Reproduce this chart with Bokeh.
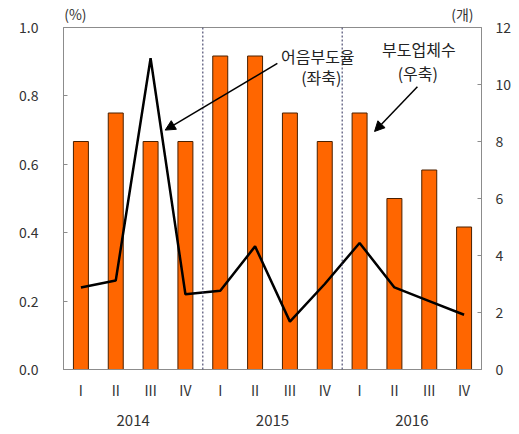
from bokeh.plotting import figure
from bokeh.layouts import row
from bokeh.models import (Range1d, LinearAxis, FixedTicker, Span, Label,
                          Arrow, NormalHead, ColumnDataSource, NumeralTickFormatter, Spacer)
from bokeh.embed import file_html
from bokeh.resources import INLINE

years = ["2014", "2015", "2016"]
quarters = ["I", "II", "III", "IV"]
firms = [8, 9, 8, 8, 11, 11, 9, 8, 9, 6, 7, 5]           # 부도업체수 (우축, 개)
rate = [0.24, 0.26, 0.91, 0.22, 0.23, 0.36, 0.14, 0.25, 0.37, 0.24, 0.20, 0.16]  # 어음부도율 (좌축, %)
left_ticks = [0.0, 0.2, 0.4, 0.6, 0.8, 1.0]
right_ticks = [0, 2, 4, 6, 8, 10, 12]
unit_labels = ["(%)", "(개)"]

n_q = len(quarters)
n = len(years) * n_q
xs = [i + 0.5 for i in range(n)]
q_labels = [quarters[i % n_q] for i in range(n)]
year_pos = [k * n_q + n_q / 2 for k in range(len(years))]
src = ColumnDataSource(data=dict(x=xs, firms=firms, rate=rate))

FONT = "Noto Sans CJK KR"
GRAY = "#8c8c8c"
TXT = "#333333"

p = figure(frame_width=418, frame_height=342, output_backend="svg", toolbar_location=None,
           x_range=Range1d(0, n), y_range=Range1d(0, 1.0))
p.extra_y_ranges = {"cnt": Range1d(0, 12)}
p.grid.visible = False
p.outline_line_color = GRAY
p.background_fill_color = "white"

# bars on right axis
p.vbar(x="x", top="firms", width=0.43, source=src, y_range_name="cnt",
       fill_color="#FF6600", line_color="#4a2000", line_width=1)
# line on left axis
p.line(x="x", y="rate", source=src, line_color="black", line_width=2.5)

# year dividers
for k in range(1, len(years)):
    p.add_layout(Span(location=k * n_q, dimension="height", line_color="#2a2a55",
                      line_dash="2 2", line_width=1))

def style_axis(ax, standoff, size="14px"):
    ax.major_tick_in = 4
    ax.major_tick_out = 0
    ax.minor_tick_line_color = None
    ax.major_label_standoff = standoff
    ax.major_label_text_font = FONT
    ax.major_label_text_font_size = size
    ax.major_label_text_color = TXT
    ax.axis_line_color = GRAY
    ax.major_tick_line_color = GRAY

yl = p.yaxis[0]
yl.ticker = FixedTicker(ticks=left_ticks)
yl.formatter = NumeralTickFormatter(format="0.0")
style_axis(yl, 25)

yr = LinearAxis(y_range_name="cnt", ticker=FixedTicker(ticks=right_ticks))
style_axis(yr, 14)
p.add_layout(yr, "right")

# quarter labels
xa = p.xaxis[0]
xa.ticker = FixedTicker(ticks=xs)
xa.major_label_overrides = {x: q for x, q in zip(xs, q_labels)}
style_axis(xa, 10)
xa.major_tick_line_color = None

# year labels
ya = LinearAxis(ticker=FixedTicker(ticks=year_pos),
                major_label_overrides={x: y for x, y in zip(year_pos, years)})
style_axis(ya, 12, "15px")
ya.axis_line_color = None
ya.major_tick_line_color = None
p.add_layout(ya, "below")

# unit labels via a bare axis above the frame
unit_pos = [0.34, 11.45]
ua = LinearAxis(ticker=FixedTicker(ticks=unit_pos),
                major_label_overrides={unit_pos[0]: unit_labels[0], unit_pos[1]: unit_labels[1]})
style_axis(ua, 4)
ua.axis_line_color = None
ua.major_tick_line_color = None
p.add_layout(ua, "above")

# annotations
for txt, x, y in [("어음부도율", 7.3, 0.917), ("(좌축)", 7.4, 0.855),
                  ("부도업체수", 10.2, 0.936), ("(우축)", 10.17, 0.868)]:
    p.add_layout(Label(x=x, y=y, text=txt, text_font=FONT, text_font_size="16px",
                       text_align="center", text_baseline="middle", text_color="#222222"))

p.add_layout(Arrow(end=NormalHead(size=10, fill_color="black", line_color="black"),
                   x_start=6.14, y_start=0.895, x_end=2.92, y_end=0.70,
                   line_color="black", line_width=1.5))
p.add_layout(Arrow(end=NormalHead(size=10, fill_color="black", line_color="black"),
                   x_start=10.16, y_start=0.827, x_end=8.93, y_end=0.696,
                   line_color="black", line_width=1.5))

layout = row(Spacer(width=16), p)
open("out.html", "w").write(file_html(layout, INLINE))
